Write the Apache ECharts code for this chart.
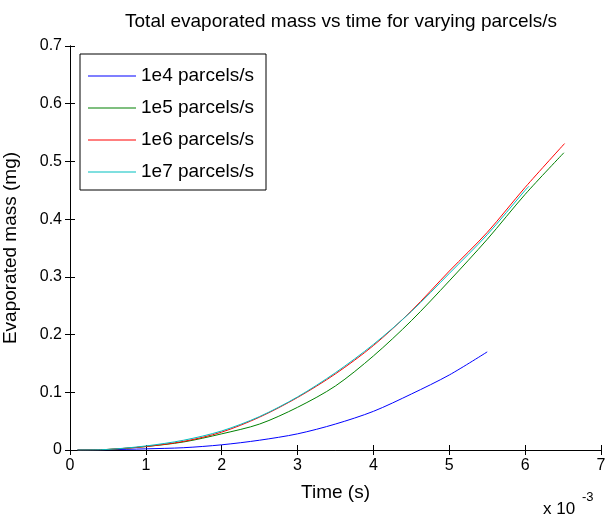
<!DOCTYPE html>
<html>
<head>
<meta charset="utf-8">
<script src="https://cdn.jsdelivr.net/npm/echarts@6/dist/echarts.min.js"></script>
<style>
	html, body { margin: 0; padding: 0; background: #fff; }
	#chart { width: 611px; height: 522px; }
</style>
</head>
<body>
<div id="chart"></div>
<script>
// time in units of 1e-3 s, mass in mg
const seriesNames = [ '1e4 parcels/s', '1e5 parcels/s', '1e6 parcels/s', '1e7 parcels/s' ];
const seriesColors = [ '#0000ff', '#008000', '#ff0000', '#00bfbf' ];

const time1e4 = [ 0.1, 0.5, 1, 1.5, 2, 2.5, 3, 3.5, 4, 4.5, 5, 5.5 ];
const mass1e4 = [ 0, 0.0005, 0.002, 0.004, 0.009, 0.017, 0.028, 0.045, 0.067, 0.097, 0.130, 0.170 ];

const time1e5 = [ 0.1, 0.5, 1, 1.5, 2, 2.5, 3, 3.5, 4, 4.5, 5, 5.5, 6, 6.51 ];
const mass1e5 = [ 0, 0.001, 0.006, 0.014, 0.028, 0.045, 0.074, 0.111, 0.163, 0.224, 0.293, 0.365, 0.443, 0.515 ];

const time1e6 = [ 0.1, 0.5, 1, 1.5, 2, 2.5, 3, 3.5, 4, 4.5, 5, 5.5, 6, 6.52 ];
const mass1e6 = [ 0, 0.001, 0.006, 0.015, 0.031, 0.057, 0.091, 0.132, 0.181, 0.241, 0.310, 0.377, 0.455, 0.531 ];

const time1e7 = [ 0.1, 0.5, 1, 1.5, 2, 2.5, 3, 3.5, 4, 4.5, 5, 5.5, 6, 6.05 ];
const mass1e7 = [ 0, 0.001, 0.007, 0.017, 0.033, 0.058, 0.092, 0.134, 0.183, 0.240, 0.306, 0.373, 0.450, 0.457 ];

const allTimes = [ time1e4, time1e5, time1e6, time1e7 ];
const allMasses = [ mass1e4, mass1e5, mass1e6, mass1e7 ];

const font = 'Liberation Sans, Arial, sans-serif';
const black = '#000';

const pair = ( xs, ys ) => xs.map( ( x, i ) => [ x, ys[ i ] ] );

const axisLine = { show: true, lineStyle: { color: black, width: 1 } };
const innerTick = { show: true, inside: true, length: 5, lineStyle: { color: black } };
const tickLabel = { fontFamily: font, fontSize: 16, color: black, margin: 8 };
const axisName = { fontFamily: font, fontSize: 19, color: black };

const chart = echarts.init( document.getElementById( 'chart' ), null, { renderer: 'canvas' } );

chart.setOption( {
	animation: false,
	backgroundColor: '#fff',
	title: {
		text: 'Total evaporated mass vs time for varying parcels/s',
		left: 336,
		textAlign: 'center',
		top: 7,
		textStyle: { fontFamily: font, fontSize: 19, fontWeight: 'normal', color: black }
	},
	grid: { left: 70, right: 10, top: 46, bottom: 72, outerBoundsMode: 'none', containLabel: false },
	legend: {
		left: 80,
		top: 54,
		orient: 'vertical',
		padding: [ 12, 12, 8, 8 ],
		itemWidth: 48,
		itemHeight: 14,
		itemGap: 12,
		borderColor: black,
		borderWidth: 1,
		backgroundColor: '#fff',
		icon: 'path://M0,6 L48,6 L48,7.2 L0,7.2 Z',
		textStyle: { fontFamily: font, fontSize: 19, lineHeight: 20, color: black },
		data: seriesNames
	},
	xAxis: [ {
		type: 'value',
		min: 0,
		max: 7,
		interval: 1,
		name: 'Time (s)',
		nameLocation: 'middle',
		nameGap: 33,
		nameTextStyle: axisName,
		axisLine,
		axisTick: innerTick,
		axisLabel: tickLabel,
		splitLine: { show: false }
	}, {
		type: 'value',
		position: 'top',
		min: 0,
		max: 7,
		interval: 1,
		axisLine,
		axisTick: innerTick,
		axisLabel: { show: false },
		splitLine: { show: false }
	} ],
	yAxis: [ {
		type: 'value',
		min: 0,
		max: 0.7,
		interval: 0.1,
		name: 'Evaporated mass (mg)',
		nameLocation: 'middle',
		nameGap: 50,
		nameTextStyle: axisName,
		axisLine,
		axisTick: innerTick,
		axisLabel: tickLabel,
		splitLine: { show: false }
	}, {
		type: 'value',
		position: 'right',
		min: 0,
		max: 0.7,
		interval: 0.1,
		axisLine,
		axisTick: innerTick,
		axisLabel: { show: false },
		splitLine: { show: false }
	} ],
	graphic: [ {
		type: 'text',
		left: 543,
		top: 501,
		style: {
			text: 'x 10',
			font: '17px ' + font,
			fill: black
		}
	}, {
		type: 'text',
		left: 582,
		top: 491,
		style: {
			text: '-3',
			font: '13px ' + font,
			fill: black
		}
	} ],
	series: seriesNames.map( ( name, i ) => ( {
		name,
		type: 'line',
		data: pair( allTimes[ i ], allMasses[ i ] ),
		smooth: 0.3,
		showSymbol: false,
		symbol: 'none',
		color: seriesColors[ i ],
		lineStyle: { width: 1, color: seriesColors[ i ] }
	} ) )
} );
</script>
</body>
</html>
